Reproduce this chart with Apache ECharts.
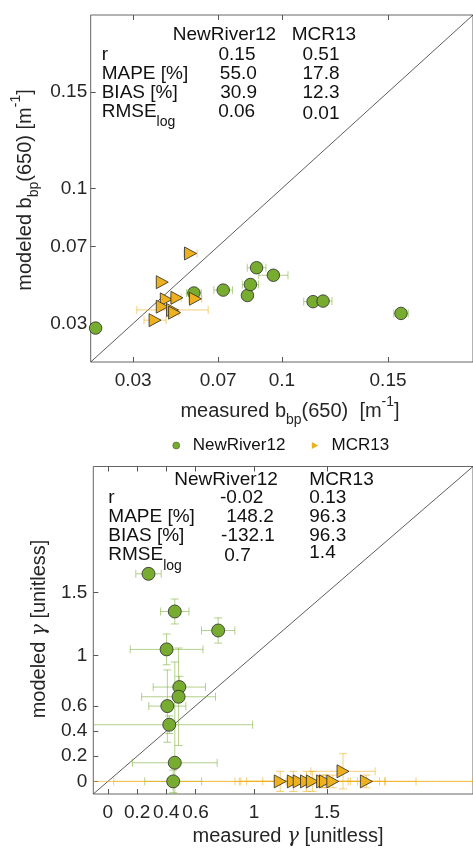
<!DOCTYPE html>
<html><head><meta charset="utf-8">
<script src="https://cdn.jsdelivr.net/npm/echarts@6/dist/echarts.min.js"></script>
<style>html,body{margin:0;padding:0;background:#fff}#c{width:473px;height:848px}</style>
</head><body><div id="c"></div>
<script>
// ---------- DATA ----------
// Top panel: b_bp(650)
const topLimits = [0.01, 0.19];
const topTicks = [0.03, 0.07, 0.1, 0.15];
const nrTopX    = [0.0123, 0.0586, 0.0724, 0.0838, 0.0852, 0.0881, 0.0960, 0.1147, 0.1194, 0.1561];
const nrTopY    = [0.0276, 0.0458, 0.0473, 0.0445, 0.0502, 0.0589, 0.0550, 0.0413, 0.0416, 0.0352];
const nrTopXErr = [0,      0.0035, 0.0044, 0,      0.0038, 0.0044, 0.0069, 0.0044, 0.0042, 0.0034];
const mcrTopX    = [0.0570, 0.0437, 0.0456, 0.0506, 0.0593, 0.0437, 0.0485, 0.0495, 0.0403];
const mcrTopY    = [0.0663, 0.0514, 0.0425, 0.0433, 0.0428, 0.0387, 0.0370, 0.0356, 0.0317];
const mcrTopXErr = [0.0031, 0,      0.0020, 0.0020, 0.0030, 0.0020, 0.0168, 0.0020, 0.0052];

// Bottom panel: gamma
const botLimits = [-0.1, 2.5];
const botTicks = [0, 0.2, 0.4, 0.6, 1, 1.5];
const nrBotX    = [0.278, 0.458, 0.755, 0.402, 0.489, 0.484, 0.407, 0.420, 0.458, 0.447];
const nrBotY    = [1.648, 1.349, 1.198, 1.048, 0.749, 0.672, 0.598, 0.450, 0.148, 0.000];
const nrBotXErr = [0.087, 0.097, 0.114, 0.249, 0.179, 0.253, 0.127, 0.571, 0.290, 0.195];
const nrBotYErr = [0.000, 0.099, 0.100, 0.122, 0.085, 0.387, 0.287, 0.070, 0.800, 0.090];
const mcrBotX    = [1.18, 1.27, 1.31, 1.36, 1.40, 1.47, 1.49, 1.54, 1.61, 1.77];
const mcrBotY    = [0.00, 0.00, 0.00, 0.00, 0.00, 0.00, 0.00, 0.00, 0.08, 0.00];
const mcrBotXErr = [0.23, 1.23, 0.40, 0.30, 0.50, 1.60, 0.62, 0.32, 0.22, 0.125];
const mcrBotYErr = [0.08, 0.08, 0.00, 0.08, 0.08, 0.05, 0.05, 0.05, 0.14, 0.05];

// Stats tables
const statHeaders = ['NewRiver12', 'MCR13'];
const statLabels = ['r', 'MAPE [%]', 'BIAS [%]', 'RMSE'];
const topStatsNR  = ['0.15', '55.0', '30.9', '0.06'];
const topStatsMCR = ['0.51', '17.8', '12.3', '0.01'];
const botStatsNR  = ['-0.02', '148.2', '-132.1', '0.7'];
const botStatsMCR = ['0.13', '96.3', '96.3', '1.4'];

// ---------- STYLE ----------
const FONT = '"Liberation Sans", Arial, Helvetica, sans-serif';
const GREEN = '#77AC30', ORANGE = '#EDB120';
const GREEN_ERR = 'rgba(119,172,48,0.55)', ORANGE_ERR = 'rgba(237,177,32,0.6)';
const TRI = 'path://M0,0L12,6.5L0,13Z';

function zip(...arrs) { return arrs[0].map((_, i) => arrs.map(a => a[i])); }

function errRender(color) {
  return function (params, api) {
    const x = api.value(0), y = api.value(1), xe = api.value(2), ye = api.value(3);
    const cs = params.coordSys;
    const x0 = cs.x, x1 = cs.x + cs.width, y0 = cs.y, y1 = cs.y + cs.height;
    const c = api.coord([x, y]);
    const cap = 4;
    const st = { stroke: color, lineWidth: 1, fill: null };
    const ch = [];
    const inX = v => v >= x0 - 0.5 && v <= x1 + 0.5;
    const inY = v => v >= y0 - 0.5 && v <= y1 + 0.5;
    if (xe > 0) {
      const l = api.coord([x - xe, y])[0], r = api.coord([x + xe, y])[0];
      ch.push({ type: 'line', shape: { x1: Math.max(l, x0), y1: c[1], x2: Math.min(r, x1), y2: c[1] }, style: st });
      if (inX(l)) ch.push({ type: 'line', shape: { x1: l, y1: c[1] - cap, x2: l, y2: c[1] + cap }, style: st });
      if (inX(r)) ch.push({ type: 'line', shape: { x1: r, y1: c[1] - cap, x2: r, y2: c[1] + cap }, style: st });
    }
    if (ye > 0) {
      const t = api.coord([x, y + ye])[1], b = api.coord([x, y - ye])[1];
      ch.push({ type: 'line', shape: { x1: c[0], y1: Math.max(t, y0), x2: c[0], y2: Math.min(b, y1) }, style: st });
      if (inY(t)) ch.push({ type: 'line', shape: { x1: c[0] - cap, y1: t, x2: c[0] + cap, y2: t }, style: st });
      if (inY(b)) ch.push({ type: 'line', shape: { x1: c[0] - cap, y1: b, x2: c[0] + cap, y2: b }, style: st });
    }
    return { type: 'group', children: ch };
  };
}

function mainAxis(lim, ticks, position, gridIndex, labelMargin) {
  return {
    type: 'value', gridIndex, position, min: lim[0], max: lim[1],
    axisLine: { show: false, onZero: false },
    splitLine: { show: false },
    axisTick: { show: true, inside: true, length: 5, customValues: ticks, lineStyle: { color: '#555', width: 1 } },
    axisLabel: { show: true, customValues: ticks, margin: labelMargin, color: '#262626', fontFamily: FONT, fontSize: 19 }
  };
}
function mirrorAxis(lim, ticks, position, gridIndex) {
  return {
    type: 'value', gridIndex, position, min: lim[0], max: lim[1],
    axisLine: { show: false, onZero: false }, splitLine: { show: false },
    axisTick: { show: true, inside: true, length: 5, customValues: ticks, lineStyle: { color: '#555', width: 1 } },
    axisLabel: { show: false }
  };
}

const errY0 = xs => xs.map(() => 0);

const series = [
  // top grid
  { type: 'line', xAxisIndex: 0, yAxisIndex: 0, data: [[topLimits[0], topLimits[0]], [topLimits[1], topLimits[1]]],
    symbol: 'none', lineStyle: { color: '#333', width: 0.8 }, silent: true, z: 1 },
  { type: 'custom', xAxisIndex: 0, yAxisIndex: 0, renderItem: errRender(GREEN_ERR),
    data: zip(nrTopX, nrTopY, nrTopXErr, errY0(nrTopX)), z: 2 },
  { type: 'custom', xAxisIndex: 0, yAxisIndex: 0, renderItem: errRender(ORANGE_ERR),
    data: zip(mcrTopX, mcrTopY, mcrTopXErr, errY0(mcrTopX)), z: 2 },
  { name: 'NewRiver12', type: 'scatter', xAxisIndex: 0, yAxisIndex: 0, data: zip(nrTopX, nrTopY),
    symbol: 'circle', symbolSize: 12.5, itemStyle: { color: GREEN, borderColor: '#2a2a2a', borderWidth: 0.8, opacity: 1 }, z: 3 },
  { name: 'MCR13', type: 'scatter', xAxisIndex: 0, yAxisIndex: 0, data: zip(mcrTopX, mcrTopY),
    symbol: TRI, symbolSize: [12, 13], itemStyle: { color: ORANGE, borderColor: '#2a2a2a', borderWidth: 0.8, opacity: 1 }, z: 3 },
  // bottom grid
  { type: 'line', xAxisIndex: 2, yAxisIndex: 1, data: [[botLimits[0], botLimits[0]], [botLimits[1], botLimits[1]]],
    symbol: 'none', lineStyle: { color: '#333', width: 0.8 }, silent: true, z: 1 },
  { type: 'custom', xAxisIndex: 2, yAxisIndex: 1, renderItem: errRender(GREEN_ERR),
    data: zip(nrBotX, nrBotY, nrBotXErr, nrBotYErr), z: 2 },
  { type: 'custom', xAxisIndex: 2, yAxisIndex: 1, renderItem: errRender(ORANGE_ERR),
    data: zip(mcrBotX, mcrBotY, mcrBotXErr, mcrBotYErr), z: 2 },
  { name: 'NewRiver12', type: 'scatter', xAxisIndex: 2, yAxisIndex: 1, data: zip(nrBotX, nrBotY),
    symbol: 'circle', symbolSize: 13, itemStyle: { color: GREEN, borderColor: '#2a2a2a', borderWidth: 0.8, opacity: 1 }, z: 3 },
  { name: 'MCR13', type: 'scatter', xAxisIndex: 2, yAxisIndex: 1, data: zip(mcrBotX, mcrBotY),
    symbol: TRI, symbolSize: [12, 13], itemStyle: { color: ORANGE, borderColor: '#2a2a2a', borderWidth: 0.8, opacity: 1 }, z: 3 }
];

// ---------- TEXT (graphic) ----------
const richBase = {
  m: { fontFamily: FONT, fontSize: 20, lineHeight: 32, fill: '#262626' },
  s: { fontFamily: FONT, fontSize: 14, lineHeight: 14, verticalAlign: 'bottom', fill: '#262626' },
  p: { fontFamily: FONT, fontSize: 14, lineHeight: 14, verticalAlign: 'top', fill: '#262626' },
  g: { fontFamily: '"DejaVu Serif", serif', fontStyle: 'italic', fontSize: 20, lineHeight: 32, fill: '#262626' }
};
const rmseRich = {
  a: { fontFamily: FONT, fontSize: 19, lineHeight: 36, fill: '#111' },
  l: { fontFamily: FONT, fontSize: 14, lineHeight: 14, verticalAlign: 'bottom', fill: '#111' }
};
function txt(text, x, y, align) {
  return {
    type: 'text', x, y, silent: true,
    style: { text, fill: '#111', font: '19px ' + FONT, textAlign: align || 'left', textVerticalAlign: 'middle' }
  };
}
function statsBlock(cfg) {
  const els = [];
  els.push(txt(statHeaders[0], cfg.h1x, cfg.hy, 'left'));
  els.push(txt(statHeaders[1], cfg.h2x, cfg.hy, 'left'));
  statLabels.forEach((lab, i) => {
    const y = cfg.y0 + i * cfg.dy;
    if (lab === 'RMSE') {
      els.push({ type: 'text', x: cfg.lx, y: y, silent: true,
        style: { text: '{a|RMSE}{l|log}', rich: rmseRich, textAlign: 'left', textVerticalAlign: 'middle', font: '19px ' + FONT } });
    } else {
      els.push(txt(lab, cfg.lx, y, 'left'));
    }
    els.push(txt(cfg.nr[i], cfg.nrx[i], y + cfg.nrdy[i], 'center'));
    els.push(txt(cfg.mcr[i], cfg.mcrx, y + cfg.mcrdy[i], cfg.mcrAlign));
  });
  return els;
}

const graphics = [].concat(
  statsBlock({ h1x: 172.7, h2x: 291.7, hy: 35, lx: 101.7, y0: 54.3, dy: 19.1,
    nr: topStatsNR, nrx: [237, 238.3, 238.7, 236.7], nrdy: [0, 0, 0, 0],
    mcr: topStatsMCR, mcrx: 321, mcrAlign: 'center', mcrdy: [0, 0, 0, 2.5] }),
  statsBlock({ h1x: 174.3, h2x: 309.3, hy: 479.3, lx: 108.3, y0: 497.3, dy: 19.2,
    nr: botStatsNR, nrx: [241.7, 250, 248, 237.5], nrdy: [0, 0, 0, 1],
    mcr: botStatsMCR, mcrx: 309.3, mcrAlign: 'left', mcrdy: [0, 0, 0, -2.5] }),
  [
    { type: 'text', x: 290, y: 411, silent: true,
      style: { text: '{m|measured b}{s|bp}{m|(650)  [m}{p|-1}{m|]}', rich: richBase, textAlign: 'center', textVerticalAlign: 'middle' } },
    { type: 'text', x: 25, y: 190, rotation: Math.PI / 2, silent: true,
      style: { text: '{m|modeled b}{s|bp}{m|(650) [m}{p|-1}{m|]}', rich: richBase, textAlign: 'center', textVerticalAlign: 'middle' } },
    { type: 'text', x: 288, y: 836.7, silent: true,
      style: { text: '{m|measured }{g|γ}{m| [unitless]}', rich: richBase, textAlign: 'center', textVerticalAlign: 'middle' } },
    { type: 'text', x: 39.3, y: 629, rotation: Math.PI / 2, silent: true,
      style: { text: '{m|modeled }{g|γ}{m| [unitless]}', rich: richBase, textAlign: 'center', textVerticalAlign: 'middle' } }
  ]
);

const option = {
  animation: false,
  backgroundColor: '#fff',
  grid: [
    { left: 90.7, top: 15, width: 393.3, height: 347, show: true, borderColor: '#666', borderWidth: 1, backgroundColor: 'transparent' },
    { left: 93.3, top: 466.5, width: 390.7, height: 327.5, show: true, borderColor: '#666', borderWidth: 1, backgroundColor: 'transparent' }
  ],
  xAxis: [
    mainAxis(topLimits, topTicks, 'bottom', 0, 9),
    mirrorAxis(topLimits, topTicks, 'top', 0),
    mainAxis(botLimits, botTicks, 'bottom', 1, 9),
    mirrorAxis(botLimits, botTicks, 'top', 1)
  ],
  yAxis: [
    mainAxis(topLimits, topTicks, 'left', 0, 3.5),
    mainAxis(botLimits, botTicks, 'left', 1, 6)
  ],
  legend: {
    data: [
      { name: 'NewRiver12', icon: 'circle', itemStyle: { color: GREEN, borderColor: '#3a4a20', borderWidth: 0.5 } },
      { name: 'MCR13', icon: TRI, itemStyle: { color: ORANGE, borderWidth: 0 } }
    ],
    left: 167.5, top: 432, itemWidth: 7, itemHeight: 7, itemGap: 26.5,
    textStyle: { fontFamily: FONT, fontSize: 17, color: '#111', padding: [0, 0, 0, 8] },
    selectedMode: false
  },
  series,
  graphic: { elements: graphics }
};

const chart = echarts.init(document.getElementById('c'), null, { renderer: 'canvas' });
chart.setOption(option);
</script>
</body></html>
